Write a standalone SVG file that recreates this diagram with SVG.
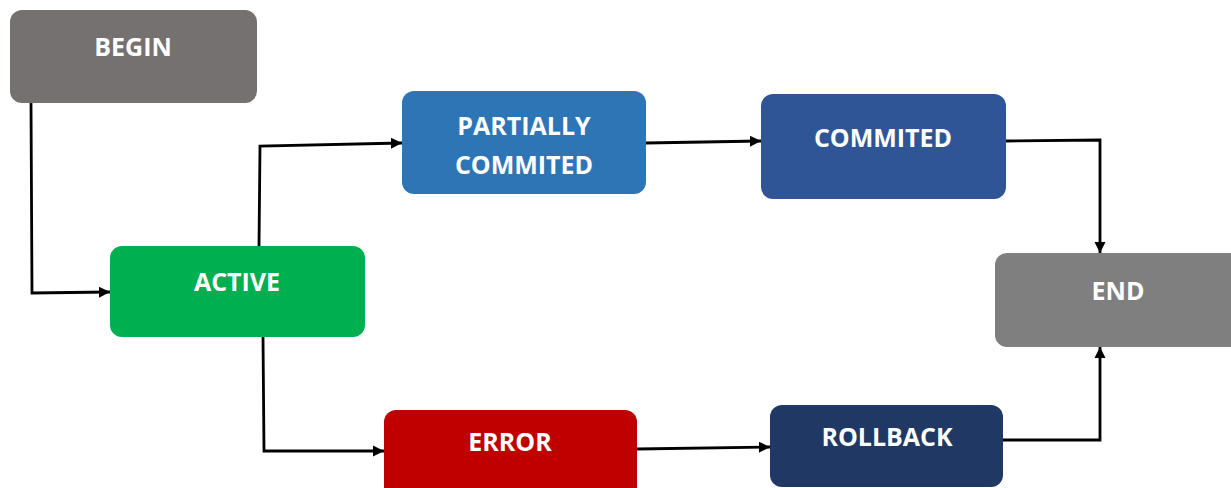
<svg xmlns="http://www.w3.org/2000/svg" width="1231" height="488" viewBox="0 0 1231 488">
<defs>
<style>
.box{stroke:none}
.lbl{font-family:"Open Sans","Liberation Sans",sans-serif;font-weight:700;font-size:25px;fill:#ffffff;text-anchor:middle}
.conn{fill:none;stroke:#000;stroke-width:2.8;stroke-linejoin:miter}
</style>
<marker id="arr" viewBox="0 0 10 10" refX="10" refY="5" markerWidth="4" markerHeight="4" markerUnits="strokeWidth" orient="auto">
<path d="M0,0 L10,5 L0,10 z" fill="#000"/>
</marker>
</defs>
<rect width="1231" height="488" fill="#ffffff"/>
<g id="connectors">
<path class="conn" d="M31,103 L32,293 L110,292" marker-end="url(#arr)"/>
<path class="conn" d="M259,246 L260,146 L402,143" marker-end="url(#arr)"/>
<path class="conn" d="M263,337 L264,451 L384,451" marker-end="url(#arr)"/>
<path class="conn" d="M646,143 L761,141" marker-end="url(#arr)"/>
<path class="conn" d="M1006,141 L1100,140 L1100,253" marker-end="url(#arr)"/>
<path class="conn" d="M637,449 L770,447" marker-end="url(#arr)"/>
<path class="conn" d="M1003,440 L1100,440 L1100,347" marker-end="url(#arr)"/>
</g>
<g id="begin">
<rect class="box" x="10" y="10" width="247" height="93" rx="12" fill="#767171"/>
<text class="lbl" x="133" y="56">BEGIN</text>
</g>
<g id="active">
<rect class="box" x="110" y="246" width="255" height="91" rx="12" fill="#00B050"/>
<text class="lbl" x="237" y="291">ACTIVE</text>
</g>
<g id="partially-commited">
<rect class="box" x="402" y="91" width="244" height="103" rx="12" fill="#2E75B6"/>
<text class="lbl" x="524" y="135">PARTIALLY</text>
<text class="lbl" x="524" y="174">COMMITED</text>
</g>
<g id="commited">
<rect class="box" x="761" y="94" width="245" height="105" rx="12" fill="#2F5597"/>
<text class="lbl" x="883" y="147">COMMITED</text>
</g>
<g id="end">
<rect class="box" x="995" y="253" width="250" height="94" rx="12" fill="#7F7F7F"/>
<text class="lbl" x="1118" y="300">END</text>
</g>
<g id="error">
<rect class="box" x="384" y="410" width="253" height="90" rx="12" fill="#C00000"/>
<text class="lbl" x="510" y="451">ERROR</text>
</g>
<g id="rollback">
<rect class="box" x="770" y="405" width="233" height="82" rx="12" fill="#203864"/>
<text class="lbl" x="887" y="446">ROLLBACK</text>
</g>
</svg>
